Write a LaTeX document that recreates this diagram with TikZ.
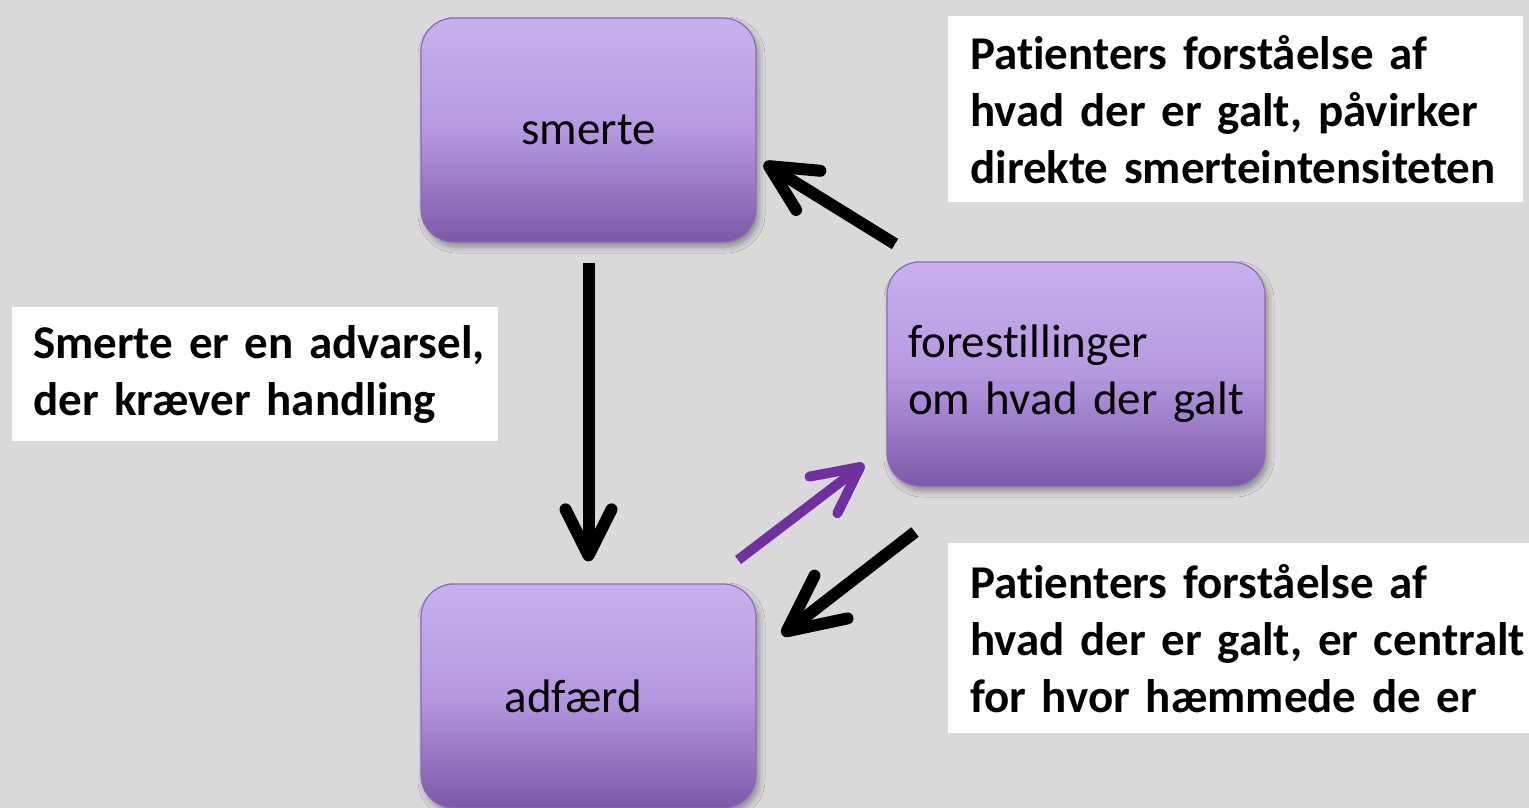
\documentclass[tikz,border=0pt]{standalone}
\usepackage{fontspec}
\setmainfont{Carlito}[Ligatures=NoCommon]
\usetikzlibrary{arrows.meta,shadows.blur}

\definecolor{canvas}{RGB}{217,217,217}
\definecolor{lavtop}{RGB}{201,176,237}
\definecolor{lavmid}{RGB}{182,152,224}
\definecolor{lavbot}{RGB}{126,88,168}
\definecolor{boxedge}{RGB}{138,106,184}
\definecolor{plum}{RGB}{112,48,160}

\begin{document}
\begin{tikzpicture}[x=1pt,y=1pt,
  stage/.style={draw=boxedge, line width=1.2pt, rounded corners=33pt,
    top color=lavtop, bottom color=lavbot, middle color=lavmid,
    minimum height=224pt, inner sep=0pt,
    font=\fontsize{47}{57}\selectfont,
    blur shadow={shadow xshift=3pt, shadow yshift=-5pt,
      shadow blur radius=6pt, shadow opacity=35}},
  note/.style={fill=white, anchor=north west, align=left,
    inner ysep=0pt, inner xsep=22pt,
    font=\bfseries\fontsize{47}{57}\selectfont},
  link/.style={line width=12pt, draw=black},
  tipA/.style={-{Straight Barb[length=46pt,width=46pt,round]}},
  tipB/.style={-{Straight Barb[length=56pt,width=54pt,round]}}
]
% backdrop
\fill[canvas] (0,0) rectangle (1529,-808);
\useasboundingbox (0,0) rectangle (1529,-808);

% the three stages
\node[stage, minimum width=335pt] (smerte) at (588.5,-130) {smerte};
\node[stage, text width=336pt, inner xsep=21pt, align=left] (fore) at (1076,-374)
  {forestillinger\\om hvad der galt};
\node[stage, minimum width=335pt] (adfaerd) at (588.5,-696) {\hspace*{-30pt}adfærd};

% explanatory notes (each line kept whole)
\node[note, text width=531pt, minimum height=186pt] (noteTop) at (948,-16)
  {\mbox{Patienters forståelse af}\\\mbox{hvad der er galt, påvirker}\\\mbox{direkte smerteintensiteten}};
\node[note, text width=444pt, inner xsep=21pt, minimum height=134pt] (noteLeft) at (12,-307)
  {\mbox{Smerte er en advarsel,}\\\mbox{der kræver handling}};
\node[note, text width=537pt, minimum height=190pt] (noteBot) at (948,-543)
  {\mbox{Patienters forståelse af}\\\mbox{hvad der er galt, er centralt}\\\mbox{for hvor hæmmede de er}};

% free ends of the diagonal arrows
\coordinate (topTail) at (895,-244);
\coordinate (topHead) at (764,-163);
\coordinate (plumTail) at (738,-560);
\coordinate (plumHead) at (864,-464);
\coordinate (lowTail) at (915,-532);
\coordinate (lowHead) at (782,-635);

% connectors
\draw[link, tipA, shorten <=20pt, shorten >=22pt] (smerte.south) -- (adfaerd.north);
\draw[link, tipA] (topTail) -- (topHead);
\draw[link, draw=plum, line width=10pt, tipA] (plumTail) -- (plumHead);
\draw[link, tipB] (lowTail) -- (lowHead);
\end{tikzpicture}
\end{document}
